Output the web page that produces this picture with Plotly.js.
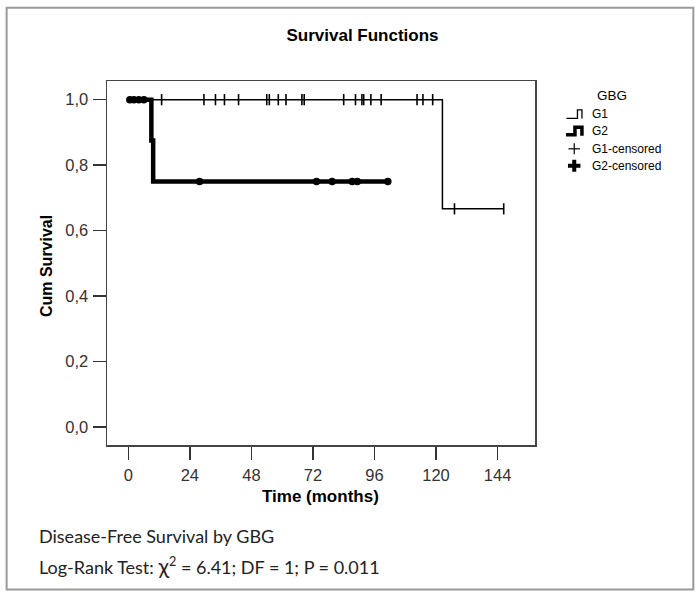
<!DOCTYPE html>
<html>
<head>
<meta charset="utf-8">
<script src="https://cdn.plot.ly/plotly-3.0.1.min.js"></script>
<style>html,body{margin:0;padding:0;background:#fff;}#chart{width:700px;height:597px;}</style>
</head>
<body>
<div id="chart"></div>
<script>
// ---- Data ----
// G1 Kaplan-Meier step curve
var g1StepTime = [0, 122.5, 146.4];
var g1StepSurv = [1.0, 0.6667, 0.6667];
// G1 censored observations
var g1CensTime = [13, 29.5, 34, 37.5, 43, 54, 55, 58.5, 61.5, 67.7, 68.6, 84, 88.6, 91.1, 91.8, 94.6, 98.6, 112.6, 114.9, 118.7, 127.2, 146.4];
var g1CensSurv = [1, 1, 1, 1, 1, 1, 1, 1, 1, 1, 1, 1, 1, 1, 1, 1, 1, 1, 1, 1, 0.6667, 0.6667];
// G2 Kaplan-Meier step curve
var g2StepTime = [0, 9, 9.7, 101.2];
var g2StepSurv = [1.0, 0.875, 0.75, 0.75];
// G2 censored observations
var g2CensTime = [0.6, 2.2, 4.1, 6.1, 27.8, 73.4, 79.5, 87.3, 89.3, 101.2];
var g2CensSurv = [1, 1, 1, 1, 0.75, 0.75, 0.75, 0.75, 0.75, 0.75];
// Axis ticks
var xTicks = [0, 24, 48, 72, 96, 120, 144];
var yTicks = [0, 0.2, 0.4, 0.6, 0.8, 1.0];
// Texts
var chartTitle = 'Survival Functions';
var xTitle = 'Time (months)';
var yTitle = 'Cum Survival';
var legendTitle = 'GBG';
var legendLabels = ['G1', 'G2', 'G1-censored', 'G2-censored'];
var noteLine1 = 'Disease-Free Survival by GBG';
var noteLine2 = 'Log-Rank Test: <span style="font-size:22px">χ</span><sup>2</sup> = 6.41; DF = 1; P = 0.011';

// ---- Layout geometry (pixels) ----
var L = 106.5, T = 80.5, W = 428.5, H = 365;
function xp(px){ return (px - L) / W; }
function yp(py){ return (T + H - py) / H; }

var ARIAL = 'Liberation Sans, Arial, sans-serif';

var traces = [
  {x: g1StepTime, y: g1StepSurv, mode: 'lines', line: {shape: 'hv', color: '#000', width: 1.5}, name: legendLabels[0], hoverinfo: 'skip'},
  {x: g2StepTime, y: g2StepSurv, mode: 'lines', line: {shape: 'hv', color: '#000', width: 4.5}, name: legendLabels[1], hoverinfo: 'skip'},
  {x: g1CensTime, y: g1CensSurv, mode: 'markers', marker: {symbol: 'line-ns', size: 8, line: {color: '#000', width: 1.6}}, name: legendLabels[2]},
  {x: g2CensTime, y: g2CensSurv, mode: 'markers', marker: {symbol: 'circle', size: 7.5, color: '#000'}, name: legendLabels[3]}
];

var shapes = [
  // outer frame
  {type: 'rect', xref: 'paper', yref: 'paper', x0: xp(6), x1: xp(693.5), y0: yp(590.5), y1: yp(7), line: {color: '#9a9a9a', width: 2}},
  // legend icons: G1 (thin step)
  {type: 'path', xref: 'paper', yref: 'paper', path: 'M ' + xp(566.5) + ' ' + yp(118) + ' L ' + xp(577.5) + ' ' + yp(118) + ' L ' + xp(577.5) + ' ' + yp(109.5) + ' L ' + xp(582) + ' ' + yp(109.5) + ' L ' + xp(582) + ' ' + yp(118), line: {color: '#000', width: 1.3}},
  // G2 (thick step)
  {type: 'path', xref: 'paper', yref: 'paper', path: 'M ' + xp(566) + ' ' + yp(134.5) + ' L ' + xp(575) + ' ' + yp(134.5) + ' L ' + xp(575) + ' ' + yp(127) + ' L ' + xp(582) + ' ' + yp(127) + ' L ' + xp(582) + ' ' + yp(135.5), line: {color: '#000', width: 3.5}},
  // G1-censored thin plus
  {type: 'line', xref: 'paper', yref: 'paper', x0: xp(568.5), x1: xp(580), y0: yp(148.5), y1: yp(148.5), line: {color: '#000', width: 1.2}},
  {type: 'line', xref: 'paper', yref: 'paper', x0: xp(574.3), x1: xp(574.3), y0: yp(143), y1: yp(154), line: {color: '#000', width: 1.2}},
  // G2-censored thick plus
  {type: 'line', xref: 'paper', yref: 'paper', x0: xp(568), x1: xp(580.5), y0: yp(165.5), y1: yp(165.5), line: {color: '#000', width: 4}},
  {type: 'line', xref: 'paper', yref: 'paper', x0: xp(574.3), x1: xp(574.3), y0: yp(159.5), y1: yp(171.5), line: {color: '#000', width: 4}}
];

var legendY = [113.5, 130.5, 148.5, 165.5];
var annotations = [
  {xref: 'paper', yref: 'paper', x: xp(612), y: yp(95), text: legendTitle, showarrow: false, xanchor: 'center', yanchor: 'middle', font: {family: ARIAL, size: 13.5, color: '#000'}},
  {xref: 'paper', yref: 'paper', x: xp(46.5), y: yp(266), text: '<b>' + yTitle + '</b>', textangle: -90, showarrow: false, xanchor: 'center', yanchor: 'middle', font: {family: ARIAL, size: 16, color: '#000'}},
  {xref: 'paper', yref: 'paper', x: xp(320.5), y: yp(497), text: '<b>' + xTitle + '</b>', showarrow: false, xanchor: 'center', yanchor: 'middle', font: {family: ARIAL, size: 17, color: '#000'}},
  {xref: 'paper', yref: 'paper', x: xp(36), y: yp(537), text: noteLine1, showarrow: false, xanchor: 'left', yanchor: 'middle', font: {family: 'Lato, sans-serif', size: 18, color: '#222'}},
  {xref: 'paper', yref: 'paper', x: xp(36), y: yp(566), text: noteLine2, showarrow: false, xanchor: 'left', yanchor: 'middle', font: {family: 'Lato, sans-serif', size: 18, color: '#222'}}
];
for (var i = 0; i < legendLabels.length; i++) {
  annotations.push({xref: 'paper', yref: 'paper', x: xp(590.5), y: yp(legendY[i]), text: legendLabels[i], showarrow: false, xanchor: 'left', yanchor: 'middle', font: {family: ARIAL, size: 12, color: '#000'}});
}

var layout = {
  width: 700, height: 597,
  margin: {l: L, r: 700 - L - W, t: T, b: 597 - T - H, pad: 0},
  paper_bgcolor: '#fff', plot_bgcolor: '#fff',
  showlegend: false,
  separators: ',.',
  title: {text: '<b>' + chartTitle + '</b>', xref: 'container', yref: 'container', x: 362.5 / 700, y: 1 - 35 / 597, xanchor: 'center', yanchor: 'middle', font: {family: ARIAL, size: 17, color: '#000'}},
  xaxis: {
    range: [-8.3, 158.6], tickvals: xTicks, ticks: 'outside', ticklen: 13, tickwidth: 1.5, tickcolor: '#333',
    showline: true, mirror: true, linecolor: '#444', linewidth: 1.5, showgrid: false, zeroline: false,
    tickfont: {family: ARIAL, size: 16.5, color: '#333'}, ticklabelstandoff: 2, fixedrange: true
  },
  yaxis: {
    range: [-0.0545, 1.057], tickvals: yTicks, tickformat: '.1f', ticks: 'outside', ticklen: 13, tickwidth: 1.5, tickcolor: '#333',
    showline: true, mirror: true, linecolor: '#444', linewidth: 1.5, showgrid: false, zeroline: false,
    tickfont: {family: ARIAL, size: 16.5, color: '#333'}, ticklabelstandoff: 1, fixedrange: true
  },
  shapes: shapes,
  annotations: annotations
};

Plotly.newPlot('chart', traces, layout, {staticPlot: true, displayModeBar: false});
</script>
</body>
</html>
